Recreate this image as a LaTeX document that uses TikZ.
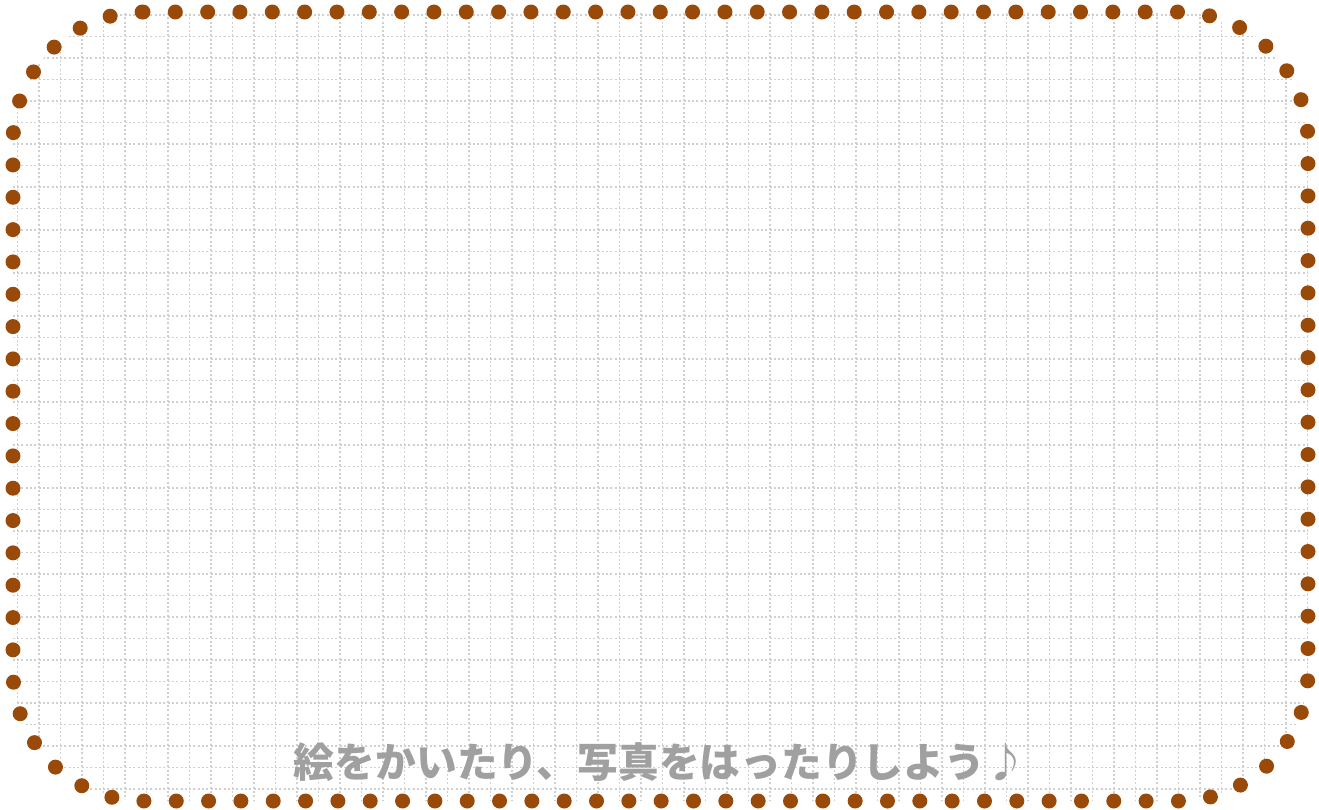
\documentclass[tikz,border=0pt]{standalone}
\usepackage{fontspec}
\usepackage{xcolor}
\usepackage{tikz}
\usetikzlibrary{positioning}
\newfontfamily\jpfont{Noto Sans CJK JP}
\definecolor{dotbrown}{RGB}{153, 74, 8}
\definecolor{gridgray}{RGB}{208, 208, 208}
\definecolor{textgray}{RGB}{160, 160, 160}

\begin{document}
\begin{tikzpicture}[x=0.02cm, y=-0.02cm]
        \useasboundingbox (0,0) rectangle (1319,809);

        % Grid paper
        \begin{scope}
            \clip[rounded corners=2.6cm] (13,12) rectangle (1308,801);
            \foreach \x in {17.5,39,...,1310}
                \draw[gridgray, line width=0.035cm, dash pattern=on 0.04cm off 0.046cm] (\x,0) -- (\x,809);
            \foreach \y in {15,36.5,...,809}
                \draw[gridgray, line width=0.035cm, dash pattern=on 0.04cm off 0.046cm] (0,\y) -- (1319,\y);
        \end{scope}

        % Dotted frame
        \draw[dotbrown, line width=0.3cm, line cap=round, dash pattern=on 0pt off 0.6467cm, rounded corners=2.6cm]
            (143,12) -- (1308,12) -- (1308,801) -- (13,801) -- (13,12) -- (143,12);

        % Caption
        \node[text=textgray, font=\jpfont\bfseries\fontsize{23.2pt}{26pt}\selectfont] (caption) at (660,762) {絵をかいたり、写真をはったりしよう♪};
    \end{tikzpicture}
\end{document}
